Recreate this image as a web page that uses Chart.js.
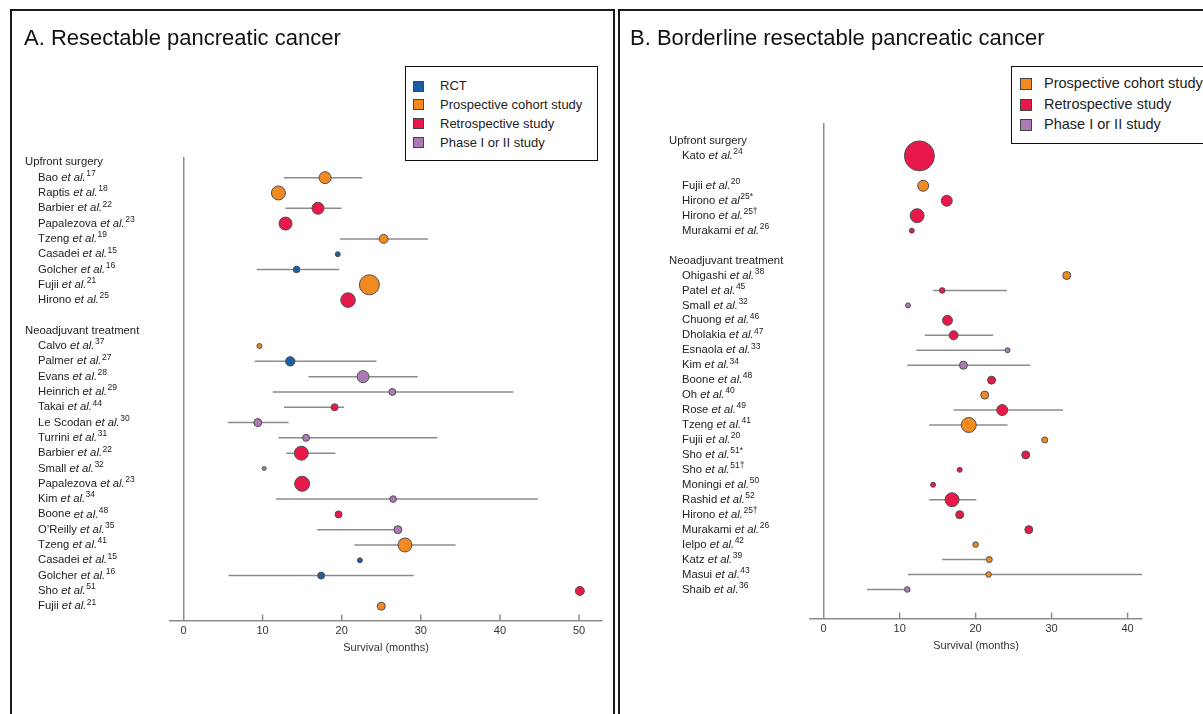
<!DOCTYPE html>
<html><head><meta charset="utf-8">
<script src="https://cdn.jsdelivr.net/npm/chart.js@4.4.1/dist/chart.umd.min.js"></script>
<style>
html,body{margin:0;padding:0;background:#fff;width:1203px;height:714px;overflow:hidden;font-family:"Liberation Sans",Arial,sans-serif;}
.panel{position:absolute;border:2px solid #1a1a1a;box-sizing:border-box;}
#pA{left:10px;top:9px;width:605px;height:760px;}
#pB{left:618px;top:9px;width:640px;height:760px;}
canvas{position:absolute;top:0;}
#cA{left:0}
#cB{left:617px}
.title{position:absolute;font-size:22px;line-height:26px;color:#111;white-space:nowrap;}
.legend{position:absolute;border:1.5px solid #111;background:#fff;box-sizing:border-box;}
.li{position:absolute;white-space:nowrap;color:#222;}
.sw{position:absolute;border:1px solid #444;box-sizing:border-box;}
</style>
</head><body>
<div class="panel" id="pA"></div>
<div class="panel" id="pB"></div>
<canvas id="cA" width="613" height="714"></canvas>
<canvas id="cB" width="586" height="714"></canvas>
<div class="title" style="left:24px;top:25px;">A. Resectable pancreatic cancer</div>
<div class="title" style="left:630px;top:25px;">B. Borderline resectable pancreatic cancer</div>
<div class="legend" id="legA" style="left:405px;top:66px;width:193px;height:95px;"></div>
<div class="legend" id="legB" style="left:1011px;top:66px;width:220px;height:78px;"></div>
<script>
// ---- study types ----
const TYPES = ['RCT', 'Prospective cohort study', 'Retrospective study', 'Phase I or II study'];
const TYPE_COLORS = ['#1a5ea6', '#f28a22', '#e8194a', '#ad7ab8'];
const SECTIONS = ['Upfront surgery', 'Neoadjuvant treatment'];

// ---- Panel A: resectable ----
const A_SECTION = [0,0,0,0,0,0,0,0,0, 1,1,1,1,1,1,1,1,1,1,1,1,1,1,1,1,1,1];
const A_NAMES = ['Bao','Raptis','Barbier','Papalezova','Tzeng','Casadei','Golcher','Fujii','Hirono',
  'Calvo','Palmer','Evans','Heinrich','Takai','Le Scodan','Turrini','Barbier','Small','Papalezova','Kim','Boone',"O\u2019Reilly",'Tzeng','Casadei','Golcher','Sho','Fujii'];
const A_REFS = ['17','18','22','23','19','15','16','21','25',
  '37','27','28','29','44','30','31','22','32','23','34','48','35','41','15','16','51','21'];
const A_TYPE = [1,1,2,2,1,0,0,1,2, 1,0,3,3,2,3,3,2,3,2,3,2,3,1,0,0,2,1];
const A_MEDIAN = [17.9,12.0,17.0,12.9,25.3,19.5,14.3,23.5,20.8,
  9.6,13.5,22.7,26.4,19.1,9.4,15.5,14.9,10.2,15.0,26.5,19.6,27.1,28.0,22.3,17.4,50.1,25.0];
const A_LOW = [12.7,null,12.9,null,19.8,null,9.25,null,null,
  null,9.0,15.8,11.3,12.7,5.6,12.0,13.0,null,null,11.7,null,16.9,21.6,null,5.7,null,null];
const A_HIGH = [22.6,null,20.0,null,30.9,null,19.7,null,null,
  null,24.4,29.6,41.7,20.3,13.3,32.1,19.2,null,null,44.8,null,27.5,34.4,null,29.1,null,null];
const A_SIZE = [6,7,6,6.5,4.5,2.5,3.3,10,7.3, 2.5,4.7,6,3.5,3.5,4,3.5,7,2,7.5,3.3,3.5,4,7,2.5,3.5,4.5,4];

// ---- Panel B: borderline resectable ('' = spacer row) ----
const B_SECTION = [0,0,0,0,0,0, 1,1,1,1,1,1,1,1,1,1,1,1,1,1,1,1,1,1,1,1,1,1];
const B_NAMES = ['Kato','','Fujii','Hirono','Hirono','Murakami',
  'Ohigashi','Patel','Small','Chuong','Dholakia','Esnaola','Kim','Boone','Oh','Rose','Tzeng','Fujii','Sho','Sho','Moningi','Rashid','Hirono','Murakami','Ielpo','Katz','Masui','Shaib'];
const B_ETAL = ['et al.','','et al.','et al','et al.','et al.',
  'et al.','et al.','et al.','et al.','et al.','et al.','et al.','et al.','et al.','et al.','et al.','et al.','et al.','et al.','et al.','et al.','et al.','et al.','et al.','et al.','et al.','et al.'];
const B_REFS = ['24','','20','25*','25\u2020','26',
  '38','45','32','46','47','33','34','48','40','49','41','20','51*','51\u2020','50','52','25\u2020','26','42','39','43','36'];
const B_TYPE = [2,null,1,2,2,2, 1,2,3,2,2,3,3,2,1,2,1,1,2,2,2,2,2,2,1,1,1,3];
const B_MEDIAN = [12.6,null,13.1,16.2,12.3,11.6,
  32.0,15.6,11.1,16.3,17.1,24.2,18.4,22.1,21.2,23.5,19.1,29.1,26.6,17.9,14.4,16.9,17.9,27.0,20.0,21.8,21.7,11.0];
const B_LOW = [null,null,null,null,null,null,
  null,14.4,null,null,13.3,12.2,11.0,null,null,17.1,13.9,null,null,null,null,13.9,null,null,null,15.6,11.1,5.7];
const B_HIGH = [null,null,null,null,null,null,
  null,24.1,null,null,22.3,24.2,27.2,null,null,31.5,24.2,null,null,null,null,20.1,null,null,null,21.8,42,11.0];
const B_SIZE = [15,null,5.5,5.5,7,2.5, 4,2.8,2.5,5,4.5,2.5,4,4,4,5.5,7.5,3,4,2.5,2.5,7,4,4,2.8,3,2.8,2.8];

// ---- X tick settings ----
const X_STEP = 10;

function buildRows(sec, names, etal, refs, types, med, lo, hi, size) {
  const rows = []; let r = 0; let cur = -1;
  for (let i = 0; i < names.length; i++) {
    if (sec[i] !== cur) {
      if (cur !== -1) r++;
      cur = sec[i];
      rows.push({header: SECTIONS[cur], row: r}); r++;
    }
    rows.push({name: names[i], etal: etal ? etal[i] : 'et al.', ref: refs[i], type: types[i], med: med[i], lo: lo[i], hi: hi[i], size: size[i], row: r});
    r++;
  }
  return rows;
}

function makeChart(canvasId, rows, opt) {
  const datasets = [];
  opt.types.forEach(t => {
    datasets.push({
      label: TYPES[t],
      data: rows.filter(d => d.name && d.type === t && d.med != null).map(d => ({x: d.med, y: d.row, r: d.size})),
      backgroundColor: TYPE_COLORS[t],
      borderColor: '#4f4f4f',
      borderWidth: 1
    });
  });
  const font = '"Liberation Sans", Arial, sans-serif';
  const plugin = {
    id: 'forest',
    beforeDatasetsDraw(chart) {
      const xs = chart.scales.x, ys = chart.scales.y, ctx = chart.ctx, ca = chart.chartArea;
      ctx.save();
      ctx.beginPath(); ctx.rect(ca.left, ca.top, ca.right - ca.left, ca.bottom - ca.top); ctx.clip();
      ctx.strokeStyle = '#8c8c8c'; ctx.lineWidth = 1.5;
      rows.forEach(d => {
        if (d.lo != null && d.hi != null) {
          const py = ys.getPixelForValue(d.row);
          ctx.beginPath();
          ctx.moveTo(xs.getPixelForValue(d.lo), py);
          ctx.lineTo(xs.getPixelForValue(d.hi), py);
          ctx.stroke();
        }
      });
      ctx.restore();
      ctx.save();
      ctx.strokeStyle = '#8c8c8c'; ctx.lineWidth = 1.5;
      xs.ticks.forEach(t => {
        if (t.value === 0) return;
        const px = xs.getPixelForValue(t.value);
        ctx.beginPath(); ctx.moveTo(px, ca.bottom); ctx.lineTo(px, ca.bottom - 6); ctx.stroke();
      });
      ctx.restore();
    },
    afterDraw(chart) {
      const ys = chart.scales.y, ctx = chart.ctx;
      ctx.save();
      ctx.fillStyle = '#222';
      ctx.textBaseline = 'middle';
      rows.forEach(d => {
        const py = ys.getPixelForValue(d.row);
        if (d.header) {
          ctx.font = '11.3px ' + font;
          ctx.fillText(d.header, opt.headerX, py);
        } else if (d.name) {
          let x = opt.studyX;
          ctx.font = '11.3px ' + font;
          const n = d.name + ' ';
          ctx.fillText(n, x, py); x += ctx.measureText(n).width;
          ctx.font = 'italic 11.3px ' + font;
          ctx.fillText(d.etal, x, py); x += ctx.measureText(d.etal).width;
          ctx.font = '8.5px ' + font;
          ctx.fillText(d.ref, x + 0.5, py - 4);
        }
      });
      ctx.restore();
    }
  };
  return new Chart(document.getElementById(canvasId), {
    type: 'bubble',
    data: {datasets},
    options: {
      responsive: false,
      animation: false,
      events: [],
      layout: {padding: opt.padding},
      plugins: {legend: {display: false}, tooltip: {enabled: false}},
      scales: {
        x: {
          type: 'linear', min: opt.xmin, max: opt.xmax,
          grid: {
            drawTicks: false,
            lineWidth: 1.5,
            color: c => (c.tick && c.tick.value === 0) ? '#8c8c8c' : 'rgba(0,0,0,0)'
          },
          border: {display: true, color: '#8c8c8c', width: 1.5},
          ticks: {stepSize: X_STEP, includeBounds: false, padding: 4, color: '#333', font: {size: 11, family: font}},
          title: {display: true, text: 'Survival (months)', color: '#333', font: {size: 11, family: font}, padding: {top: 0, bottom: 4}}
        },
        y: {type: 'linear', reverse: true, min: opt.ymin, max: opt.ymax, display: false}
      }
    },
    plugins: [plugin]
  });
}

function makeLegend(id, types, o) {
  const el = document.getElementById(id);
  types.forEach((t, i) => {
    const cy = o.y0 + i * o.dy;
    const sw = document.createElement('div');
    sw.className = 'sw';
    sw.style.cssText = `left:${o.sx}px;top:${cy - o.sq / 2}px;width:${o.sq}px;height:${o.sq}px;background:${TYPE_COLORS[t]};`;
    el.appendChild(sw);
    const tx = document.createElement('div');
    tx.className = 'li';
    tx.textContent = TYPES[t];
    tx.style.cssText = `left:${o.tx}px;top:${cy - o.fs * 0.6}px;font-size:${o.fs}px;line-height:${o.fs * 1.2}px;`;
    el.appendChild(tx);
  });
}

const rowsA = buildRows(A_SECTION, A_NAMES, null, A_REFS, A_TYPE, A_MEDIAN, A_LOW, A_HIGH, A_SIZE);
const rowsB = buildRows(B_SECTION, B_NAMES, B_ETAL, B_REFS, B_TYPE, B_MEDIAN, B_LOW, B_HIGH, B_SIZE);

makeChart('cA', rowsA, {
  types: [0, 1, 2, 3],
  xmin: -1.7, xmax: 52.9, ymin: -0.35, ymax: 29.94,
  padding: {left: 170, right: 10, top: 157, bottom: 55},
  headerX: 25, studyX: 38
});
makeChart('cB', rowsB, {
  types: [1, 2, 3],
  xmin: -1.8, xmax: 41.9, ymin: -1.2, ymax: 31.95,
  padding: {left: 193, right: 61, top: 123, bottom: 57},
  headerX: 52, studyX: 65
});

makeLegend('legA', [0, 1, 2, 3], {y0: 19, dy: 18.8, sx: 7, sq: 11, tx: 34, fs: 13});
makeLegend('legB', [1, 2, 3], {y0: 17, dy: 20.5, sx: 8, sq: 12, tx: 32, fs: 14.5});
</script>
</body></html>
